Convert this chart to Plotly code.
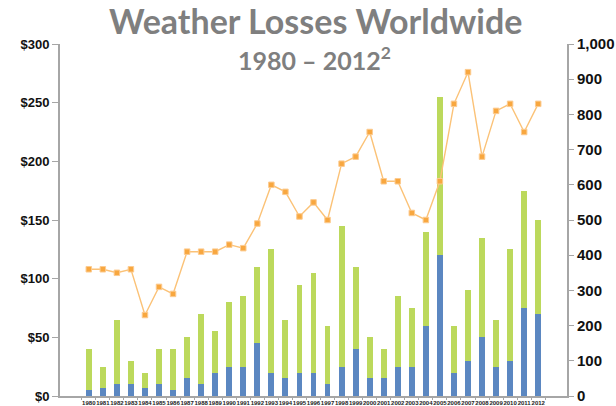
import plotly.graph_objects as go

years = [str(y) for y in range(1980, 2013)]

# Overall losses (US$ bn, left axis) and the insured part of them
overall_losses = [40, 25, 65, 30, 20, 40, 40, 50, 70, 55, 80, 85, 110, 125, 65, 95,
                  105, 60, 145, 110, 50, 40, 85, 75, 140, 255, 60, 90, 135, 65, 125, 175, 150]
insured_losses = [5, 7, 10, 10, 7, 10, 5, 15, 10, 20, 25, 25, 45, 20, 15, 20,
                  20, 10, 25, 40, 15, 15, 25, 25, 60, 120, 20, 30, 50, 25, 30, 75, 70]
# Number of events (right axis)
event_counts = [360, 360, 350, 360, 230, 310, 290, 410, 410, 410, 430, 420, 490, 600, 580, 510,
                550, 500, 660, 680, 750, 610, 610, 520, 500, 610, 830, 920, 680, 810, 830, 750, 830]

left_ticks = [0, 50, 100, 150, 200, 250, 300]
right_ticks = [0, 100, 200, 300, 400, 500, 600, 700, 800, 900, 1000]

uninsured_losses = [o - i for o, i in zip(overall_losses, insured_losses)]

BLUE = "#5b87c1"
GREEN = "#bcd95c"
ORANGE_LINE = "#fbc277"
ORANGE_MARK = "#f8a73f"
AXIS_GRAY = "#a6a6a6"

fig = go.Figure()
fig.add_trace(go.Bar(x=years, y=insured_losses, marker=dict(color=BLUE, line=dict(width=0)),
                     name="Insured losses"))
fig.add_trace(go.Bar(x=years, y=uninsured_losses, marker=dict(color=GREEN, line=dict(width=0)),
                     name="Uninsured losses"))
fig.add_trace(go.Scatter(x=years, y=event_counts, yaxis="y2", mode="lines+markers",
                         line=dict(color=ORANGE_LINE, width=1.4),
                         marker=dict(symbol="square", size=5.5, color=ORANGE_MARK,
                                     line=dict(color="#fccb90", width=1)),
                         name="Number of events"))

LABEL_FAMILY = "Liberation Sans, Arial, sans-serif"

M_L, M_R, M_T, M_B = 60, 49, 44, 10

fig.update_layout(
    width=616, height=406,
    margin=dict(l=M_L, r=M_R, t=M_T, b=M_B),
    paper_bgcolor="white", plot_bgcolor="white",
    barmode="stack", bargap=0.58,
    showlegend=False,
    xaxis=dict(type="category", showline=True, linecolor=AXIS_GRAY, linewidth=2,
               ticks="outside", tickson="boundaries", ticklen=2, tickcolor=AXIS_GRAY,
               tickfont=dict(family=LABEL_FAMILY, size=6, color="#222222", weight="bold"),
               tickangle=0, automargin=False, showgrid=False),
    yaxis=dict(range=[0, 300], tickmode="array", tickvals=left_ticks,
               ticktext=[f"${v}" for v in left_ticks],
               showline=True, linecolor=AXIS_GRAY, linewidth=2, ticks="outside", ticklen=6,
               tickcolor=AXIS_GRAY, showgrid=False, zeroline=False,
               tickfont=dict(family=LABEL_FAMILY, size=13, color="#111111", weight="bold"),
               automargin=False),
    yaxis2=dict(range=[0, 1000], tickmode="array", tickvals=right_ticks,
                ticktext=[f"{v:,}" for v in right_ticks], overlaying="y", side="right",
                showline=True, linecolor=AXIS_GRAY, linewidth=2, ticks="outside", ticklen=5,
                tickcolor=AXIS_GRAY, showgrid=False, zeroline=False,
                tickfont=dict(family=LABEL_FAMILY, size=15, color="#111111", weight="bold"),
                automargin=False),
)

# Title lines, positioned in pixels and converted to paper fractions
plot_w = 616 - M_L - M_R
plot_h = 406 - M_T - M_B


def add_title(text, cx, cy, size):
    fig.add_annotation(text=text, x=(cx - M_L) / plot_w, y=(406 - cy - M_B) / plot_h,
                       xref="paper", yref="paper", showarrow=False,
                       font=dict(family="Lato, sans-serif", size=size, color="#7f7f7f"),
                       xanchor="center", yanchor="middle")


add_title("<b>Weather Losses Worldwide</b>", 315, 21, 34)
add_title("<b>1980 – 2012<sup>2</sup></b>", 314, 58, 25)

fig.write_html("out.html")
